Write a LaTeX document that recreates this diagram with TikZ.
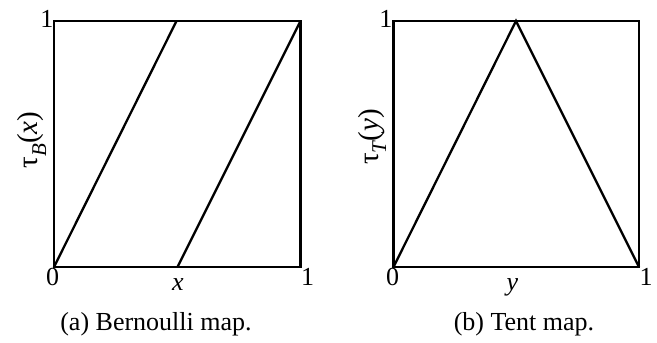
\documentclass[tikz,border=0pt]{standalone}
\usepackage{fontspec}
\setmainfont{Liberation Serif}
\newcommand{\subsc}[1]{\raisebox{-0.28em}{\fontsize{21}{24}\selectfont\itshape #1}}
\begin{document}
\begin{tikzpicture}[x=1pt,y=1pt,
  frame/.style={line width=2.8pt, line join=miter},
  curve/.style={line width=2.3pt},
  lab/.style={inner sep=0pt, font=\fontsize{26}{30}\selectfont},
  ylab/.style={inner sep=0pt, rotate=90, font=\fontsize{29}{32}\selectfont},
  capt/.style={inner sep=0pt, anchor=base, font=\fontsize{26}{30}\selectfont}]
\useasboundingbox (0,0) rectangle (657,343);
% left panel
\coordinate (a00) at (54,76);
\coordinate (a11) at (300.5,322);
\coordinate (a10) at (300.5,76);
\coordinate (amt) at (176.5,322);
\coordinate (amb) at (177.5,76);
\draw[frame] (a00) rectangle (a11);
\draw[curve] (a00) -- (amt);
\draw[curve] (amb) -- (a11);
\node[lab, anchor=base] (a0) at (52.5,57) {0};
\node[lab, anchor=base] (a1r) at (307.5,57) {1};
\node[lab, anchor=base east] (a1t) at (53.5,315) {1};
\node[lab, anchor=base] (ax) at (178,52) {\itshape x};
\node[ylab] (ay) at (32,203) {τ\subsc{B}(\textit{x})};
\node[capt] (acap) at (156,12) {(a) Bernoulli map.};
% right panel
\coordinate (b00) at (393.5,76);
\coordinate (b11) at (639,322);
\coordinate (b10) at (639,76);
\coordinate (bmt) at (516,322);
\draw[frame] (b00) rectangle (b11);
\draw[curve, line join=miter] (b00) -- (bmt) -- (b10);
\node[lab, anchor=base] (b0) at (392.5,57) {0};
\node[lab, anchor=base] (b1r) at (646,57) {1};
\node[lab, anchor=base east] (b1t) at (392.5,315) {1};
\node[lab, anchor=base] (bx) at (512.5,52) {\itshape y};
\node[ylab] (by) at (372,206) {τ\subsc{T}(\textit{y})};
\node[capt] (bcap) at (524,12) {(b) Tent map.};
\end{tikzpicture}
\end{document}
